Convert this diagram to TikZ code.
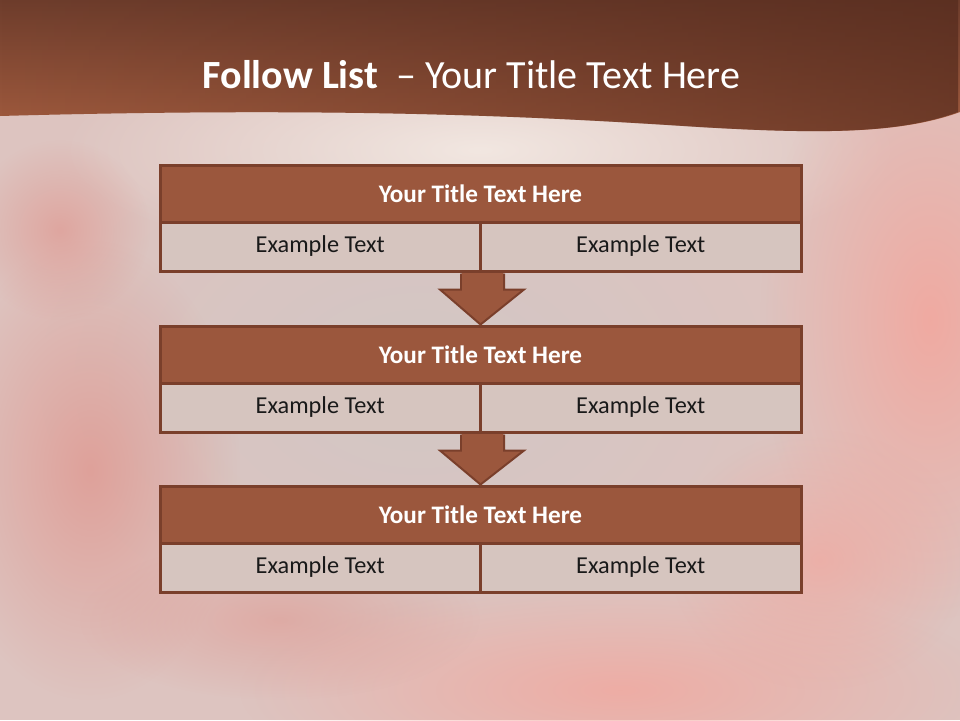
\documentclass[tikz,border=0pt]{standalone}
\usepackage{fontspec}
\setmainfont{Carlito}
\usetikzlibrary{fadings,calc}
\definecolor{bandlight}{HTML}{A35C3F}
\definecolor{bandmid}{HTML}{6E3D2C}
\definecolor{banddark}{HTML}{52291C}
\definecolor{boxtitle}{HTML}{9B573D}
\definecolor{boxline}{HTML}{7A3F2B}
\definecolor{cellfill}{HTML}{D6C5BF}
\definecolor{bgbase}{HTML}{DDC4C0}
\definecolor{bglight}{HTML}{F2E7E1}
\definecolor{bgsalmon}{HTML}{F2A79E}
\definecolor{bgred}{HTML}{E0928A}
\definecolor{bggrey}{HTML}{D2C7C5}
\tikzfading[name=blob, inner color=transparent!0, outer color=transparent!100]
\tikzfading[name=toright, left color=transparent!100, right color=transparent!35]
\tikzset{
  titleband/.style={draw=boxline, line width=3pt, fill=boxtitle, minimum width=641pt, minimum height=57pt, inner sep=0pt, text=white, font=\fontsize{25.2}{30}\selectfont\bfseries},
  cellbox/.style={draw=boxline, line width=3pt, fill=cellfill, minimum width=320.5pt, minimum height=49pt, inner sep=0pt, text=black!90, font=\fontsize{24.3}{29}\selectfont},
  downarrow/.style={draw=boxline, line width=2pt, fill=boxtitle, line join=miter},
  blobfill/.style={path fading=blob}
}
\begin{document}
\begin{tikzpicture}[x=1pt,y=-1pt]
\useasboundingbox (0,0) rectangle (960,720);
% background
\fill[bgbase] (0,0) rectangle (960,720);
\fill[bggrey, blobfill] (420,380) ellipse (380 and 260);
\fill[bglight, blobfill] (480,150) ellipse (420 and 120);
\fill[bgsalmon, blobfill, opacity=0.9] (930,320) ellipse (170 and 300);
\fill[bgsalmon, blobfill, opacity=0.8] (620,690) ellipse (380 and 110);
\fill[bgred, blobfill, opacity=0.7] (90,470) ellipse (150 and 230);
\fill[bgred, blobfill, opacity=0.6] (60,230) ellipse (90 and 90);
\fill[bgsalmon, blobfill, opacity=0.7] (820,560) ellipse (150 and 130);
\fill[bgred, blobfill, opacity=0.5] (280,620) ellipse (200 and 80);
% top band with wavy edge
\def\bandpath{(0,0) -- (960,0) -- (960,112)
  .. controls (900,134) and (820,134) .. (700,127)
  .. controls (560,118) and (360,106) .. (0,116) -- cycle}
\shade[top color=bandmid, bottom color=bandlight] \bandpath;
\fill[banddark, path fading=toright] \bandpath;
\node[text=white, font=\fontsize{40}{48}\selectfont, anchor=base] (title) at (471.5,88)
  {\textbf{Follow List}\ \ – Your Title Text Here};
% boxes
\node[titleband] (t1) at (480.5,193.5) {Your Title Text Here};
\node[cellbox] (c1a) at (320.25,246.5) {Example Text};
\node[cellbox] (c1b) at (640.75,246.5) {Example Text};
\node[titleband] (t2) at (480.5,354.5) {Your Title Text Here};
\node[cellbox] (c2a) at (320.25,407.5) {Example Text};
\node[cellbox] (c2b) at (640.75,407.5) {Example Text};
\node[titleband] (t3) at (480.5,514.5) {Your Title Text Here};
\node[cellbox] (c3a) at (320.25,567.5) {Example Text};
\node[cellbox] (c3b) at (640.75,567.5) {Example Text};
% arrows
\foreach \s/\e in {c1a/t2, c2a/t3}{
  \coordinate (top) at (\s.south east);
  \draw[downarrow] ($(top)+(-21,1)$) -- ($(top)+(-21,17)$) -- ($(top)+(-42,17)$)
    -- (\e.north) -- ($(top)+(42,17)$) -- ($(top)+(22,17)$) -- ($(top)+(22,1)$);
  \fill[boxtitle] ($(top)+(-20,0)$) rectangle ($(top)+(21,18)$);
}
\end{tikzpicture}
\end{document}
